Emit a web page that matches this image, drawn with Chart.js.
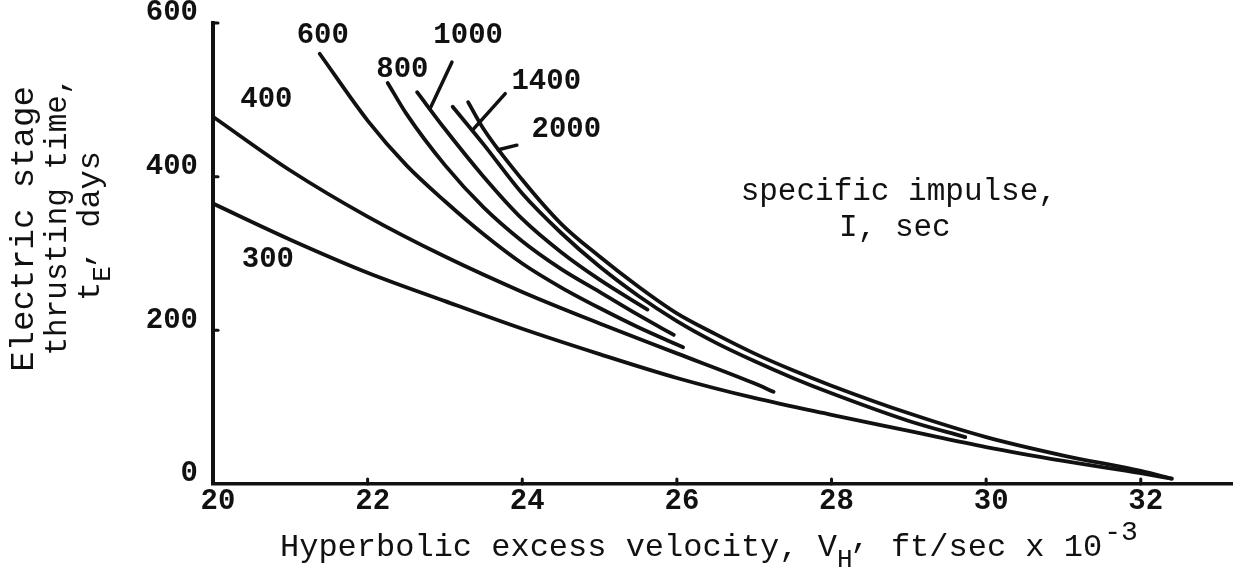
<!DOCTYPE html>
<html><head><meta charset="utf-8">
<script src="https://cdn.jsdelivr.net/npm/chart.js@4/dist/chart.umd.min.js"></script>
<style>html,body{margin:0;padding:0;background:#fff}#wrap{width:1237px;height:573px;position:relative}</style>
</head><body><div id="wrap"><canvas id="c" width="1237" height="573"></canvas></div>
<script>
// ---- data ----
const xTickValues = [20, 22, 24, 26, 28, 30, 32];
const yTickValues = [0, 200, 400, 600];

const v300  = [20, 21, 22, 23, 24, 25, 26, 27, 28, 29, 30, 31, 32, 32.4];
const t300  = [365, 318, 275, 238, 202, 169, 138, 112, 90, 69, 48, 30, 14, 7];
const v400  = [20, 21, 22, 23, 24, 25, 26, 27, 27.25];
const t400  = [478, 408, 348, 296, 250, 209, 170, 131, 120];
const v600  = [21.38, 22, 22.5, 23, 23.5, 24, 24.5, 25, 25.5, 26.08];
const t600  = [560, 473, 415, 368, 325, 287, 256, 229, 204, 178];
const v800  = [22.26, 22.5, 23, 23.5, 24, 24.5, 25, 25.5, 25.96];
const t800  = [522, 482, 415, 360, 316, 280, 250, 220, 194];
const v1000 = [22.64, 23, 23.5, 24, 24.5, 25, 25.62];
const t1000 = [510, 462, 400, 345, 302, 266, 227];
const v1400 = [23.1, 23.5, 24, 24.5, 25, 25.5, 26, 26.5, 27, 27.5, 28, 29, 29.73];
const t1400 = [491, 442, 378, 327, 283, 245, 212, 184, 160, 138, 118, 82, 61];
const v2000 = [23.3, 23.5, 24, 24.5, 25, 25.5, 26, 26.5, 27, 27.5, 28, 29, 30, 31, 32, 32.4];
const t2000 = [497, 462, 396, 339, 296, 257, 222, 195, 170, 148, 128, 92, 61, 37, 17, 7];

// curve labels (specific impulse, sec) and their positions in data units
const curveLabels = ['300', '400', '600', '800', '1000', '1400', '2000'];
const labelV = [20.71, 20.69, 21.42, 22.45, 23.30, 24.31, 24.57];
const labelT = [292, 500, 584, 539, 584, 523, 461];
// leader lines (data units)
const leaderV0 = [23.09, 23.78, 23.93];
const leaderT0 = [549, 508, 441];
const leaderV1 = [22.81, 23.36, 23.69];
const leaderT1 = [489, 461, 435];

const INK = '#111';
const FONT = '"Liberation Mono", "DejaVu Sans Mono", monospace';

function pts(vs, ts) { return vs.map((v, i) => ({x: v, y: ts[i]})); }
const seriesV = [v300, v400, v600, v800, v1000, v1400, v2000];
const seriesT = [t300, t400, t600, t800, t1000, t1400, t2000];

const datasets = seriesV.map((vs, i) => ({
  label: curveLabels[i],
  data: pts(vs, seriesT[i]),
  borderColor: INK,
  borderWidth: 3.8,
  pointRadius: 0,
  fill: false,
  cubicInterpolationMode: 'monotone',
  borderCapStyle: 'round'
}));

const annot = {
  id: 'annot',
  afterDraw(chart) {
    const ctx = chart.ctx, xs = chart.scales.x, ys = chart.scales.y;
    const X = v => xs.getPixelForValue(v), Y = t => ys.getPixelForValue(t);
    ctx.save();
    ctx.fillStyle = INK; ctx.strokeStyle = INK; ctx.lineCap = 'round';
    // small inward tick marks
    ctx.lineWidth = 3;
    xTickValues.forEach(v => { if (v === 20) return; const p = X(v);
      ctx.beginPath(); ctx.moveTo(p, ys.bottom); ctx.lineTo(p, ys.bottom - 5); ctx.stroke(); });
    yTickValues.forEach(t => { if (t === 0) return; const p = Y(t);
      ctx.beginPath(); ctx.moveTo(xs.left, p); ctx.lineTo(xs.left + 5, p); ctx.stroke(); });
    // leaders
    ctx.lineWidth = 3.5;
    leaderV0.forEach((v, i) => { ctx.beginPath(); ctx.moveTo(X(v), Y(leaderT0[i]));
      ctx.lineTo(X(leaderV1[i]), Y(leaderT1[i])); ctx.stroke(); });
    // curve labels
    ctx.font = 'bold 29px ' + FONT; ctx.textAlign = 'center'; ctx.textBaseline = 'middle';
    curveLabels.forEach((s, i) => ctx.fillText(s, X(labelV[i]), Y(labelT[i])));
    // legend-like note
    ctx.font = '31px ' + FONT;
    ctx.fillText('specific impulse,', X(28.87), Y(380));
    ctx.fillText('I, sec', X(28.82), Y(333));
    // x-axis title
    ctx.textAlign = 'left'; ctx.textBaseline = 'alphabetic';
    let x = 280; const base = 556;
    const big = '32px ' + FONT, small = '26px ' + FONT, sup = '28px ' + FONT;
    ctx.font = big; let s = 'Hyperbolic excess velocity, V'; ctx.fillText(s, x, base); x += ctx.measureText(s).width;
    ctx.font = small; ctx.fillText('H', x, base + 11); x += ctx.measureText('H').width;
    ctx.font = big; ctx.fillText(',', x - 2, base - 9); x += ctx.measureText(',').width;
    s = ' ft/sec x 10'; ctx.fillText(s, x, base); x += ctx.measureText(s).width;
    ctx.font = sup; ctx.fillText('-3', x + 2, base - 16);
    // y-axis title (rotated)
    const yLines = [['Electric stage', 33, 229, '34px '], ['thrusting time,', 66, 216, '31px ']];
    yLines.forEach(([txt, bx, cy, sz]) => {
      ctx.save(); ctx.translate(bx, cy); ctx.rotate(-Math.PI / 2);
      ctx.font = sz + FONT; ctx.textAlign = 'center'; ctx.fillText(txt, 0, 0); ctx.restore();
    });
    ctx.save(); ctx.translate(99, 226); ctx.rotate(-Math.PI / 2); ctx.textAlign = 'left';
    ctx.font = big; const wT = ctx.measureText('t').width, wC = ctx.measureText(', days').width;
    ctx.font = small; const wE = ctx.measureText('E').width;
    let px = -(wT + wE + wC) / 2;
    ctx.font = big; ctx.fillText('t', px, 0); px += wT;
    ctx.font = small; ctx.fillText('E', px, 11); px += wE;
    ctx.font = big; ctx.fillText(',', px - 2, -9); px += ctx.measureText(',').width;
    ctx.fillText(' days', px, 0);
    ctx.restore();
    ctx.restore();
  }
};

new Chart(document.getElementById('c'), {
  type: 'line',
  data: { datasets },
  options: {
    responsive: false, animation: false, devicePixelRatio: 1,
    layout: { padding: { left: 0, top: 23, right: 5, bottom: 0 } },
    plugins: { legend: { display: false }, tooltip: { enabled: false } },
    scales: {
      x: {
        type: 'linear', min: 20, max: 33.18,
        grid: { display: false, drawTicks: false },
        border: { display: true, color: INK, width: 3.5 },
        ticks: { stepSize: 2, includeBounds: false, padding: 0, labelOffset: 5, color: INK,
          font: { family: FONT, size: 29, weight: 'bold' }, maxRotation: 0, autoSkip: false,
          callback: v => xTickValues.includes(v) ? String(v) : '' },
        afterFit: s => { s.height = 89; s.paddingLeft = 0; s.paddingRight = 0; }
      },
      y: {
        type: 'linear', min: 0, max: 600,
        grid: { display: false, drawTicks: false },
        border: { display: true, color: INK, width: 4 },
        ticks: { stepSize: 200, padding: 15, labelOffset: -10, color: INK,
          font: { family: FONT, size: 29, weight: 'bold' },
          callback: v => yTickValues.includes(v) ? String(v) : '' },
        afterFit: s => { s.width = 213; s.paddingTop = 0; s.paddingBottom = 0; }
      }
    }
  },
  plugins: [annot]
});
</script></body></html>
